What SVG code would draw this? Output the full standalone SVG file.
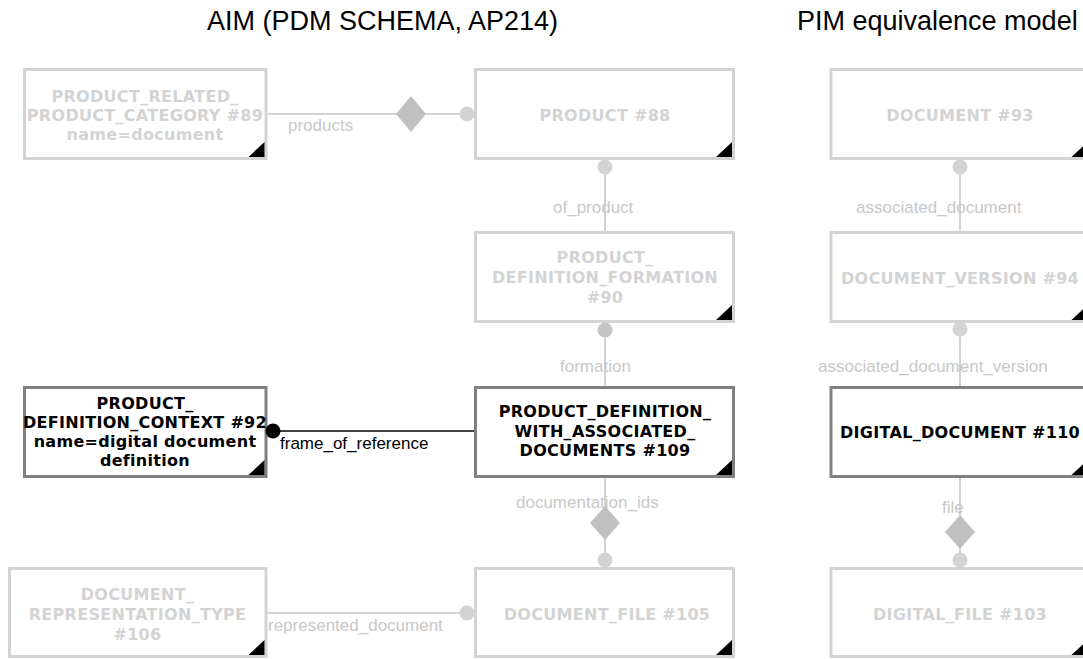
<svg xmlns="http://www.w3.org/2000/svg" width="1083" height="659" viewBox="0 0 1083 659">
<style>
.title{font-family:"Liberation Sans",Arial,sans-serif;font-size:27px;fill:#000}
.box{fill:#fff;stroke:#d3d3d3;stroke-width:3}
.box.on{stroke:#808080}
.nt{font-family:"DejaVu Sans",Verdana,sans-serif;font-weight:bold;font-size:16px;letter-spacing:0.3px;text-anchor:middle;fill:#d3d3d3}
.nt.on{fill:#000}
.lbl{font-family:"Liberation Sans",Arial,sans-serif;font-size:17px;fill:#c8c8c8}
.lbl.on{fill:#000}
.ln{stroke:#d3d3d3;stroke-width:2;fill:none}
.ln.on{stroke:#000;stroke-width:1.5}
.dot{fill:#d3d3d3}
.dot.dk{fill:#c4c4c4}
.dot.on{fill:#000}
.dia{fill:#c0c0c0}
</style>
<defs>
<polygon id="tri" points="0,0 -16,0 0,-15"/>
</defs>
<text class="title" x="207" y="30">AIM (PDM SCHEMA, AP214)</text>
<text class="title" x="797" y="30">PIM equivalence model</text>

<g id="n89">
<rect class="box" x="24.5" y="69.5" width="241.5" height="89"/>
<use href="#tri" x="264.5" y="157"/>
<text class="nt" x="145" y="102">PRODUCT_RELATED_</text>
<text class="nt" x="145" y="121">PRODUCT_CATEGORY #89</text>
<text class="nt" x="145" y="140">name=document</text>
</g>
<g id="n88">
<rect class="box" x="475.5" y="69.5" width="258" height="89"/>
<use href="#tri" x="732" y="157"/>
<text class="nt" x="605" y="121">PRODUCT #88</text>
</g>
<g id="n90">
<rect class="box" x="475.5" y="232.5" width="258" height="89"/>
<use href="#tri" x="732" y="320"/>
<text class="nt" x="605" y="263">PRODUCT_</text>
<text class="nt" x="605" y="283">DEFINITION_FORMATION</text>
<text class="nt" x="605" y="303">#90</text>
</g>
<g id="n92">
<rect class="box on" x="24.5" y="387.5" width="241.5" height="89"/>
<use href="#tri" x="264.5" y="475"/>
<text class="nt on" x="145" y="409">PRODUCT_</text>
<text class="nt on" x="145" y="428">DEFINITION_CONTEXT #92</text>
<text class="nt on" x="145" y="447">name=digital document</text>
<text class="nt on" x="145" y="466">definition</text>
</g>
<g id="n109">
<rect class="box on" x="475.5" y="387.5" width="258" height="89"/>
<use href="#tri" x="732" y="475"/>
<text class="nt on" x="605" y="417">PRODUCT_DEFINITION_</text>
<text class="nt on" x="605" y="437">WITH_ASSOCIATED_</text>
<text class="nt on" x="605" y="456">DOCUMENTS #109</text>
</g>
<g id="n106">
<rect class="box" x="9.5" y="568.5" width="256.5" height="88"/>
<use href="#tri" x="264.5" y="655"/>
<text class="nt" x="137.5" y="600">DOCUMENT_</text>
<text class="nt" x="137.5" y="620">REPRESENTATION_TYPE</text>
<text class="nt" x="137.5" y="640">#106</text>
</g>
<g id="n105">
<rect class="box" x="475.5" y="568.5" width="258" height="88"/>
<use href="#tri" x="732" y="655"/>
<text class="nt" x="607" y="620">DOCUMENT_FILE #105</text>
</g>
<g id="n93">
<rect class="box" x="831" y="69.5" width="258" height="89"/>
<use href="#tri" x="1087.5" y="157"/>
<text class="nt" x="960" y="121">DOCUMENT #93</text>
</g>
<g id="n94">
<rect class="box" x="831" y="232.5" width="258" height="89"/>
<use href="#tri" x="1087.5" y="320"/>
<text class="nt" x="960" y="284">DOCUMENT_VERSION #94</text>
</g>
<g id="n110">
<rect class="box on" x="831" y="387.5" width="258" height="89"/>
<use href="#tri" x="1087.5" y="475"/>
<text class="nt on" x="960" y="438">DIGITAL_DOCUMENT #110</text>
</g>
<g id="n103">
<rect class="box" x="831" y="568.5" width="258" height="88"/>
<use href="#tri" x="1087.5" y="655"/>
<text class="nt" x="960" y="620">DIGITAL_FILE #103</text>
</g>

<g id="connectors">
<!-- products -->
<line class="ln" x1="267" y1="114" x2="467" y2="114"/>
<polygon class="dia" points="411,96 426,114 411,132 396,114"/>
<circle class="dot" cx="467" cy="114" r="7.5"/>
<text class="lbl" x="288" y="131">products</text>
<!-- of_product -->
<line class="ln" x1="605" y1="167" x2="605" y2="231"/>
<circle class="dot" cx="605" cy="167" r="7.5"/>
<text class="lbl" x="553" y="213">of_product</text>
<!-- formation -->
<line class="ln" x1="605" y1="330" x2="605" y2="386"/>
<circle class="dot dk" cx="605" cy="330" r="7.5"/>
<text class="lbl" x="560" y="372">formation</text>
<!-- frame_of_reference -->
<line class="ln on" x1="273" y1="431" x2="474" y2="431"/>
<circle class="dot on" cx="273" cy="431" r="7.5"/>
<text class="lbl on" x="280" y="449">frame_of_reference</text>
<!-- documentation_ids -->
<line class="ln" x1="605" y1="478" x2="605" y2="560"/>
<polygon class="dia" points="605,506 620,523 605,540 590,523"/>
<circle class="dot" cx="605" cy="560" r="7.5"/>
<text class="lbl" x="516" y="508">documentation_ids</text>
<!-- represented_document -->
<line class="ln" x1="267" y1="613" x2="467" y2="613"/>
<circle class="dot" cx="467" cy="613" r="7.5"/>
<text class="lbl" x="268" y="631">represented_document</text>
<!-- associated_document -->
<line class="ln" x1="960" y1="167" x2="960" y2="231"/>
<circle class="dot" cx="960" cy="167" r="7.5"/>
<text class="lbl" x="856" y="213">associated_document</text>
<!-- associated_document_version -->
<line class="ln" x1="960" y1="329" x2="960" y2="386"/>
<circle class="dot" cx="960" cy="329" r="7.5"/>
<text class="lbl" x="818" y="372">associated_document_version</text>
<!-- file -->
<line class="ln" x1="960" y1="478" x2="960" y2="560"/>
<polygon class="dia" points="960,515 975,532 960,549 945,532"/>
<circle class="dot" cx="960" cy="560" r="7.5"/>
<text class="lbl" x="942" y="513">file</text>
</g>
</svg>
